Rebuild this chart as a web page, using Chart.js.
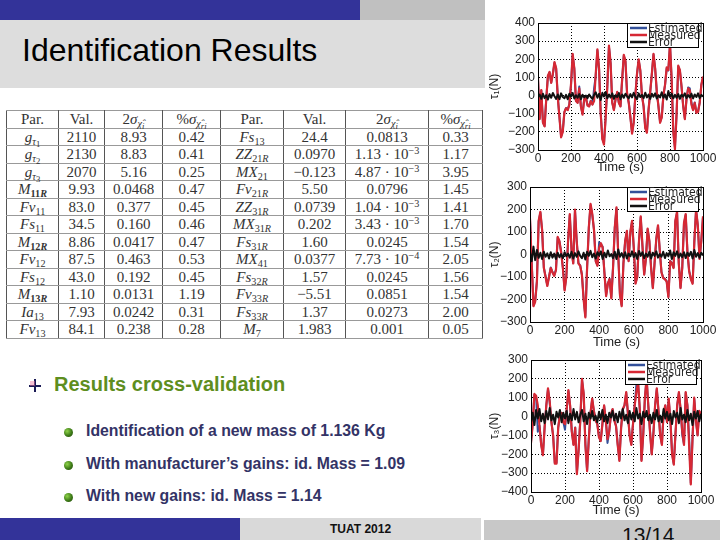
<!DOCTYPE html>
<html>
<head>
<meta charset="utf-8">
<title>Identification Results</title>
<script src="https://cdn.jsdelivr.net/npm/chart.js@4.4.0/dist/chart.umd.min.js"></script>
<style>
body{margin:0;width:720px;height:540px;position:relative;overflow:hidden;background:#fff;font-family:"Liberation Sans",Arial,sans-serif;}
.abs{position:absolute;}
#title{left:22px;top:32px;font-size:32px;color:#000;white-space:nowrap;}
table{position:absolute;left:6px;top:110px;width:476px;border-collapse:collapse;table-layout:fixed;font-family:"Liberation Serif","DejaVu Serif",serif;font-size:15px;color:#333;background:#fff;}
td{height:16.5px;padding:0;text-align:center;border:1px solid #999;border-left:1px solid #555;border-right:1px solid #555;line-height:16px;white-space:nowrap;}
table{border:1px solid #444;}
sub{font-size:68%;vertical-align:-3px;line-height:0;}
sup{font-size:68%;vertical-align:5px;line-height:0;}
sub sub{font-size:85%;vertical-align:-2px;}
#b1{left:54px;top:373px;font-size:20px;font-weight:bold;color:#5e8e1e;white-space:nowrap;}
.sb{left:86px;font-size:15.8px;font-weight:bold;color:#333366;white-space:nowrap;}
.ball{width:9px;height:9px;border-radius:50%;background:radial-gradient(circle at 35% 35%,#8fd44a,#3d7a17 55%,#1f420b);}
canvas{position:absolute;}
</style>
</head>
<body>
<div class="abs" style="left:0;top:0;width:360px;height:20px;background:#333399"></div>
<div class="abs" style="left:360px;top:0;width:125px;height:20px;background:#c0c0c0"></div>
<div class="abs" style="left:0;top:20px;width:485px;height:68px;background:#dddddd"></div>
<div class="abs" id="title">Identification Results</div>

<table id="tab"></table>

<div class="abs" style="left:34px;top:379px;width:2px;height:13px;background:#1a1a55"></div>
<div class="abs" style="left:29px;top:385px;width:12px;height:2px;background:#1a1a55"></div>
<div class="abs" style="left:30px;top:381px;width:5px;height:5px;background:rgba(240,120,160,0.45)"></div>
<div class="abs" id="b1">Results cross-validation</div>

<div class="abs ball" style="left:64px;top:428px"></div>
<div class="abs sb" style="top:422px">Identification of a new mass of 1.136 Kg</div>
<div class="abs ball" style="left:64px;top:461px"></div>
<div class="abs sb" style="top:455px">With manufacturer’s gains: id. Mass = 1.09</div>
<div class="abs ball" style="left:64px;top:493px"></div>
<div class="abs sb" style="top:487px">With new gains: id. Mass = 1.14</div>

<div class="abs" style="left:0;top:518px;width:240px;height:22px;background:#333399"></div>
<div class="abs" style="left:240px;top:518px;width:241px;height:22px;background:#d9d9d9"></div>
<div class="abs" style="left:330px;top:522px;font-size:12px;font-weight:bold;color:#111">TUAT 2012</div>
<div class="abs" style="left:484px;top:520px;width:236px;height:20px;background:#c8c8c8"></div>
<div class="abs" style="left:622px;top:523px;font-size:21px;color:#111">13/14</div>

<canvas id="c1" width="235" height="165" style="left:485px;top:10px"></canvas>
<canvas id="c2" width="235" height="175" style="left:485px;top:175px"></canvas>
<canvas id="c3" width="235" height="172" style="left:485px;top:346px"></canvas>

<script>
var legendNames = ['Estimated', 'Measured', 'Error'];
var time = [0,10,20,30,40,50,60,70,80,90,100,110,120,130,140,150,160,170,180,190,
  200,210,220,230,240,250,260,270,280,290,300,310,320,330,340,350,360,370,380,390,
  400,410,420,430,440,450,460,470,480,490,500,510,520,530,540,550,560,570,580,590,
  600,610,620,630,640,650,660,670,680,690,700,710,720,730,740,750,760,770,780,790,
  800,810,820,830,840,850,860,870,880,890,900,910,920,930,940,950,960,970,980,990,1000];

// joint 1
var meas1 = [96,-130,30,-150,-170,-20,110,130,70,120,
  185,150,-10,-120,-230,-200,-90,-70,-80,-50,
  60,230,150,-30,-40,40,-60,-105,-20,-10,
  -55,-60,-30,-50,-30,120,255,150,-100,-240,
  -270,-120,50,275,180,-40,-80,-20,20,-40,
  -60,90,225,190,10,-40,-120,-210,-150,0,
  120,200,140,0,-60,-180,-205,-80,20,120,
  230,150,20,-60,-150,-120,0,60,155,140,
  285,90,-200,-295,-100,165,140,50,-60,-130,
  -20,40,30,-50,-80,-40,-95,-90,-40,60,105];
var est1 = [90,-125,28,-145,-168,-18,105,128,72,118,
  180,148,-8,-118,-225,-196,-92,-68,-78,-48,
  58,226,148,-28,-38,50,-58,-100,-22,-12,
  -50,-58,-28,-48,40,110,250,148,-96,-236,
  -262,-118,48,270,178,-38,-78,-22,18,-38,
  -58,88,220,188,12,-38,-118,-205,-148,2,
  118,196,138,2,-58,-176,-200,-78,18,118,
  226,148,22,-58,-146,-118,2,58,150,138,
  278,88,-196,-285,-98,160,138,48,-58,-126,
  -18,45,40,-40,-78,-38,-92,-88,-38,58,100];
var err1 = [-8,6,-18,10,-14,2,-22,8,-12,14,
  -4,-18,6,-20,12,-8,-15,4,-20,10,
  -6,14,-16,2,-12,8,-20,5,-10,0,
  -14,6,-8,-18,4,18,-12,10,-25,15,
  -5,20,-15,6,-10,12,-18,2,-8,14,
  -20,6,-12,10,-4,-16,8,-10,15,-6,
  -20,12,-8,4,-14,16,-10,5,-18,10,
  -6,12,-16,2,-10,18,-12,6,-22,25,
  -8,10,-15,4,-12,8,-18,5,-6,12,
  -14,3,-10,10,-16,6,-8,12,-14,4,-6];

// joint 2
var meas2 = [160,-40,-230,-210,-120,150,190,110,-60,-100,
  -140,-100,-60,-80,-95,-70,78,60,10,-60,
  -160,-100,60,180,20,-40,200,60,-40,-50,
  -90,-200,-280,-60,120,225,180,110,-30,-50,
  30,50,30,-80,-185,-130,-110,-195,-60,120,
  210,0,-180,-230,-40,60,105,-30,100,150,
  30,-130,-100,60,170,40,-90,-20,115,60,
  -60,-150,-40,70,130,20,-80,-105,-110,-120,
  -190,-30,-40,-60,150,190,-40,-150,-60,140,
  180,10,-75,-110,-130,60,200,130,-20,60,170];
var est2 = [155,-38,-225,-205,-118,146,186,108,-58,-98,
  -136,-98,-58,-78,-92,-68,75,58,12,-58,
  -156,-98,58,176,22,-38,196,58,-38,-48,
  -88,-196,-274,-58,118,220,176,108,-28,-48,
  55,45,35,-78,-180,-128,-108,-190,-58,118,
  205,2,-176,-225,-38,58,102,-28,98,146,
  28,-126,-98,58,166,38,-88,-18,112,58,
  -58,-146,-38,68,126,18,-78,-102,-108,-118,
  -186,-28,-38,-58,146,186,-38,-146,-58,136,
  176,12,-72,-108,-126,58,196,128,-18,58,166];
var err2 = [10,-30,35,-25,20,-15,8,-20,12,-10,
  5,-18,10,-14,4,-20,8,-12,2,-16,
  10,-8,4,-14,12,-18,6,-10,14,-6,
  -16,8,-22,12,-6,16,-12,4,-18,10,
  -4,14,-20,8,-12,18,-8,2,-16,12,
  -20,22,-10,6,-14,10,-18,4,-8,14,
  -12,6,-20,16,-6,10,-16,4,-10,12,
  -18,8,-6,14,-14,2,-10,12,-16,6,
  -8,18,-20,10,-6,14,-14,4,-12,10,
  -16,8,-6,12,-18,20,-10,6,-14,8,-4];

// joint 3
var meas3 = [-140,-40,120,110,60,-50,-150,-205,-60,60,
  150,80,-30,-100,-250,-250,-60,10,20,-30,
  -40,40,140,60,-80,-150,-60,-305,-180,-20,
  200,120,-150,-290,-120,20,95,30,-20,-40,
  -110,-130,-40,60,-20,-120,-80,10,40,-20,
  -50,-150,-235,-60,40,60,130,20,-100,-150,
  -40,60,130,180,40,-235,-100,100,205,60,
  -80,-200,-90,60,150,30,-100,-150,20,60,
  -30,95,-20,-200,-255,-90,60,130,40,-80,
  -150,130,60,-150,-360,-120,100,-20,-100,30,10];
var est3 = [-135,-38,116,106,-80,-48,-146,-200,-58,58,
  146,78,-28,-98,-245,-245,-58,8,18,-28,
  -70,38,136,58,-78,-146,-58,-298,-176,-18,
  196,118,-146,-285,-118,18,92,28,-18,-38,
  -108,-128,-38,58,-18,-140,-78,8,38,-18,
  -48,-146,-230,-58,38,58,126,18,-98,-146,
  -38,58,170,176,38,-230,-98,98,200,58,
  -78,-196,-88,58,146,28,-98,-146,18,58,
  -28,92,-18,-196,-250,-88,58,126,38,-100,
  -146,126,58,-110,-352,-118,96,-18,-98,28,8];
var err3 = [-30,20,-45,35,-10,40,-25,15,-35,30,
  -15,45,-20,10,-40,25,-5,35,-30,20,
  -10,30,-35,15,-20,40,-15,25,-30,10,
  35,-25,15,-40,20,-10,30,-20,5,-30,
  25,-15,35,-25,10,-35,20,-5,30,-20,
  15,-30,25,-10,40,-20,10,-35,30,-15,
  20,-25,45,-10,15,-40,25,-5,30,-20,
  10,-35,20,-15,35,-25,5,-30,40,-10,
  25,-20,15,-40,30,-5,20,-35,45,-15,
  10,-30,35,-20,15,-45,25,-10,30,-25,15];

// identification table
var tabHead = ['Par.', 'Val.', '2<i>σ</i><sub><i>χ̂</i><sub><i>i</i></sub></sub>', '%<i>σ</i><sub><i>χ̂</i><sub><i>ri</i></sub></sub>'];
var parLeft = ['<i>g</i><sub><i>τ</i><sub>1</sub></sub>', '<i>g</i><sub><i>τ</i><sub>2</sub></sub>', '<i>g</i><sub><i>τ</i><sub>3</sub></sub>',
  '<i>M</i><sub><b>11<i>R</i></b></sub>', '<i>Fv</i><sub>11</sub>', '<i>Fs</i><sub>11</sub>',
  '<i>M</i><sub><b>12<i>R</i></b></sub>', '<i>Fv</i><sub>12</sub>', '<i>Fs</i><sub>12</sub>',
  '<i>M</i><sub><b>13<i>R</i></b></sub>', '<i>Ia</i><sub>13</sub>', '<i>Fv</i><sub>13</sub>'];
var valLeft = ['2110', '2130', '2070', '9.93', '83.0', '34.5', '8.86', '87.5', '43.0', '1.10', '7.93', '84.1'];
var sigLeft = ['8.93', '8.83', '5.16', '0.0468', '0.377', '0.160', '0.0417', '0.463', '0.192', '0.0131', '0.0242', '0.238'];
var pctLeft = ['0.42', '0.41', '0.25', '0.47', '0.45', '0.46', '0.47', '0.53', '0.45', '1.19', '0.31', '0.28'];
var parRight = ['<i>Fs</i><sub>13</sub>', '<i>ZZ</i><sub>21<i>R</i></sub>', '<i>MX</i><sub>21</sub>', '<i>Fv</i><sub>21<i>R</i></sub>',
  '<i>ZZ</i><sub>31<i>R</i></sub>', '<i>MX</i><sub>31<i>R</i></sub>', '<i>Fs</i><sub>31<i>R</i></sub>', '<i>MX</i><sub>41</sub>',
  '<i>Fs</i><sub>32<i>R</i></sub>', '<i>Fv</i><sub>33<i>R</i></sub>', '<i>Fs</i><sub>33<i>R</i></sub>', '<i>M</i><sub>7</sub>'];
var valRight = ['24.4', '0.0970', '−0.123', '5.50', '0.0739', '0.202', '1.60', '0.0377', '1.57', '−5.51', '1.37', '1.983'];
var sigRight = ['0.0813', '1.13 · 10<sup>−3</sup>', '4.87 · 10<sup>−3</sup>', '0.0796', '1.04 · 10<sup>−3</sup>', '3.43 · 10<sup>−3</sup>',
  '0.0245', '7.73 · 10<sup>−4</sup>', '0.0245', '0.0851', '0.0273', '0.001'];
var pctRight = ['0.33', '1.17', '3.95', '1.45', '1.41', '1.70', '1.54', '2.05', '1.56', '1.54', '2.00', '0.05'];

var colW = [52, 46, 58, 58, 63, 62, 83, 54];
var html = '<colgroup>' + colW.map(function(w){ return '<col style="width:' + w + 'px">'; }).join('') + '</colgroup>';
html += '<tr>' + tabHead.concat(tabHead).map(function(h){ return '<td>' + h + '</td>'; }).join('') + '</tr>';
for (var i = 0; i < parLeft.length; i++) {
  html += '<tr><td>' + [parLeft[i], valLeft[i], sigLeft[i], pctLeft[i], parRight[i], valRight[i], sigRight[i], pctRight[i]].join('</td><td>') + '</td></tr>';
}
document.getElementById('tab').innerHTML = html;

// solid frame + legend box inside the plot
var frameLegend = {
  id: 'frameLegend',
  afterDraw: function(chart) {
    var a = chart.chartArea, c = chart.ctx;
    c.save();
    c.strokeStyle = '#000';
    c.lineWidth = 1;
    c.strokeRect(Math.round(a.left) + 0.5, Math.round(a.top) + 0.5, Math.round(a.right - a.left), Math.round(a.bottom - a.top));
    var w = 71, h = 24, x = Math.round(a.right) - 5 - w, y = Math.round(a.top);
    c.fillStyle = '#fff';
    c.fillRect(x, y, w, h);
    c.strokeRect(x + 0.5, y + 0.5, w, h);
    c.font = '12px "Liberation Sans Narrow", "DejaVu Sans Condensed", sans-serif';
    c.textBaseline = 'middle';
    for (var k = 0; k < legendNames.length; k++) {
      var ds = chart.data.datasets[k];
      var ly = y + 5 + k * 7;
      c.strokeStyle = ds.borderColor;
      c.lineWidth = 2.5;
      c.beginPath(); c.moveTo(x + 3, ly); c.lineTo(x + 20, ly); c.stroke();
      c.fillStyle = '#222';
      c.fillText(ds.label, x + 21, ly + 1);
    }
    c.restore();
  }
};

function pts(vals) {
  return time.map(function(t, i){ return {x: t, y: vals[i]}; });
}

function buildChart(id, yMin, yMax, yTitle, est, meas, err, lay) {
  var ctx = document.getElementById(id).getContext('2d');
  var tickFont = {family: '"Liberation Sans", Arial, sans-serif', size: 12};
  return new Chart(ctx, {
    type: 'line',
    data: {
      datasets: [
        {label: legendNames[0], data: pts(est), borderColor: '#33509a', borderWidth: 2, order: 3},
        {label: legendNames[1], data: pts(meas), borderColor: '#d62834', borderWidth: 2.2, order: 2},
        {label: legendNames[2], data: pts(err), borderColor: '#111111', borderWidth: 2, order: 1}
      ]
    },
    options: {
      responsive: false,
      animation: false,
      layout: {padding: {top: lay.top, right: lay.right, left: 0, bottom: 0}},
      elements: {point: {radius: 0}, line: {tension: 0, borderJoinStyle: 'round'}},
      plugins: {legend: {display: false}, tooltip: {enabled: false}},
      scales: {
        x: {
          type: 'linear', min: 0, max: 1000,
          ticks: {stepSize: 200, color: '#222', font: tickFont, padding: 1, maxRotation: 0, autoSkip: false,
            callback: function(v){ return String(v); }},
          grid: {color: '#000', drawTicks: false, lineWidth: 1},
          border: {display: true, color: '#000', dash: [1, 2]},
          title: {display: true, text: 'Time (s)', color: '#222', font: {family: tickFont.family, size: 13}, padding: {top: 0, bottom: 0}},
          afterFit: function(s){ s.height = lay.xh; }
        },
        y: {
          min: yMin, max: yMax,
          ticks: {stepSize: 100, color: '#222', font: tickFont, padding: 3, autoSkip: false,
            callback: function(v){ return String(v).replace('-', '−'); }},
          grid: {color: '#000', drawTicks: false, lineWidth: 1},
          border: {display: true, color: '#000', dash: [1, 2]},
          title: {display: true, text: yTitle, color: '#222', font: {family: tickFont.family, size: 12}, padding: {top: 2, bottom: 0}},
          afterFit: function(s){ s.width = lay.yw; }
        }
      }
    },
    plugins: [frameLegend]
  });
}

var chart1 = buildChart('c1', -300, 400, 'τ₁(N)', est1, meas1, err1, {top: 13, right: 17, xh: 25, yw: 53});
var chart2 = buildChart('c2', -300, 300, 'τ₂(N)', est2, meas2, err2, {top: 12, right: 17, xh: 28, yw: 45});
var chart3 = buildChart('c3', -400, 300, 'τ₃(N)', est3, meas3, err3, {top: 14, right: 19, xh: 26, yw: 46});
</script>
</body>
</html>
